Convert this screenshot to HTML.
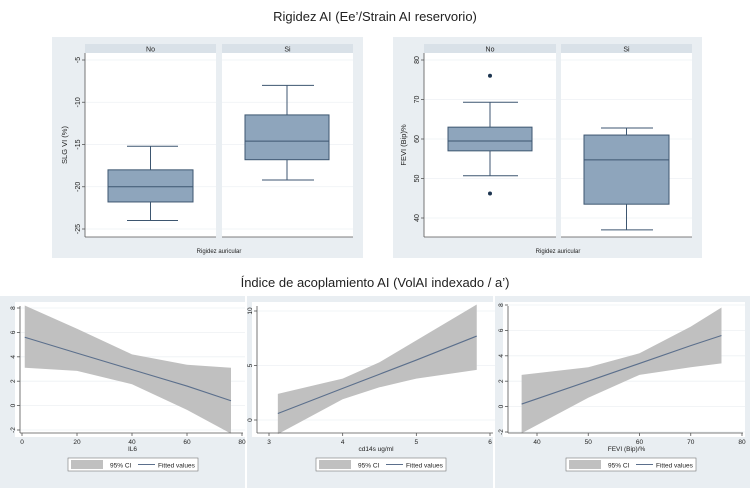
<!DOCTYPE html>
<html><head><meta charset="utf-8"><style>
body{margin:0;background:#fff;}
svg{display:block;font-family:"Liberation Sans",sans-serif;}
</style></head><body>
<svg id="c" width="750" height="488" viewBox="0 0 750 488">
<rect x="0" y="0" width="750" height="488" fill="#fff"/>
<text x="375" y="21" font-size="13" text-anchor="middle" fill="#222">Rigidez AI (Ee’/Strain AI reservorio)</text>
<text x="375" y="287" font-size="13" text-anchor="middle" fill="#222">Índice de acoplamiento AI (VolAI indexado / a’)</text>
<g id="g"></g>
</svg>
<script>
// Box plot data
const boxGroups = ["No","Si"];
const slgStats = [[-24,-21.8,-20,-18,-15.2],[-19.2,-16.8,-14.6,-11.5,-8]];
const slgOutliers = [[],[]];
const slgTicks = [-5,-10,-15,-20,-25];
const feviStats = [[50.7,57,59.5,63,69.3],[37,43.5,54.7,61,62.8]];
const feviOutliers = [[76,46.2],[]];
const feviTicks = [80,70,60,50,40];
// Fit plots data
const il6X = [1,20,40,60,76];
const il6Fit = [5.6,4.3,2.95,1.6,0.4];
const il6Lo = [3.1,2.85,1.75,-0.35,-2.3];
const il6Hi = [8.2,6.3,4.2,3.35,3.1];
const il6XTicks = [0,20,40,60,80];
const il6YTicks = [-2,0,2,4,6,8];
const cdX = [3.12,4,4.5,5,5.82];
const cdFit = [0.6,2.9,4.2,5.5,7.7];
const cdLo = [-1.3,1.9,3.0,3.8,4.6];
const cdHi = [2.4,3.8,5.3,7.3,10.6];
const cdXTicks = [3,4,5,6];
const cdYTicks = [0,5,10];
const fvX = [37,50,60,70,76];
const fvFit = [0.2,2.0,3.4,4.8,5.6];
const fvLo = [-2.1,0.7,2.5,3.1,3.4];
const fvHi = [2.5,3.1,4.2,6.3,7.8];
const fvXTicks = [40,50,60,70,80];
const fvYTicks = [-2,0,2,4,6,8];

const NS="http://www.w3.org/2000/svg";
const G=document.getElementById('g');
function mk(tag,attrs,parent){const e=document.createElementNS(NS,tag);for(const k in attrs)e.setAttribute(k,attrs[k]);(parent||G).appendChild(e);return e;}

function boxPanel(px,pw,ytitle,stats,outs,ticks,vTop,yTop,vBot,yBot,plotX,headers,boxX,capX,name){
  const g=mk('g',{});
  
  
  const y=v=>yTop+(v-vTop)*(yBot-yTop)/(vBot-vTop);
  mk('rect',{x:px,y:37,width:pw,height:221,fill:'#e9eef2'},g);
  headers.forEach((h,i)=>{
    const hr=mk('rect',{x:h[0],y:44,width:h[1]-h[0],height:9,fill:'#d9e1e8'},g);
    
    
    mk('rect',{x:h[0],y:53,width:h[1]-h[0],height:184,fill:'#fff'},g);
    const t=mk('text',{x:(h[0]+h[1])/2,y:51.5,'font-size':7,'text-anchor':'middle',fill:'#222'},g);t.textContent=boxGroups[i];
    ticks.forEach(v=>mk('line',{x1:h[0],x2:h[1],y1:y(v),y2:y(v),stroke:'#eef1f4','stroke-width':0.8},g));
    mk('line',{x1:h[0],x2:h[1],y1:237,y2:237,stroke:'#555','stroke-width':0.8},g);
  });
  mk('line',{x1:plotX,x2:plotX,y1:53,y2:237,stroke:'#555','stroke-width':0.8},g);
  ticks.forEach(v=>{
    mk('line',{x1:plotX-3,x2:plotX,y1:y(v),y2:y(v),stroke:'#555','stroke-width':0.8},g);
    const t=mk('text',{x:0,y:0,'font-size':7,'text-anchor':'middle',fill:'#222',transform:`translate(${plotX-5},${y(v)}) rotate(-90)`},g);t.textContent=v;
  });
  const yt=mk('text',{x:0,y:0,'font-size':7.5,'text-anchor':'middle',fill:'#222',transform:`translate(${plotX-18},145) rotate(-90)`},g);yt.textContent=ytitle;
  
  const xt=mk('text',{x:(headers[0][0]+headers[1][1])/2,y:253,'font-size':6,'text-anchor':'middle',fill:'#222'},g);xt.textContent='Rigidez auricular';
  stats.forEach((s,i)=>{
    const bx=boxX[i],cx=capX[i],mid=(bx[0]+bx[1])/2;
    const b=mk('g',{},g);
    
    
    const st={stroke:'#3d5670','stroke-width':1};
    mk('line',Object.assign({x1:mid,x2:mid,y1:y(s[0]),y2:y(s[1])},st),b);
    mk('line',Object.assign({x1:mid,x2:mid,y1:y(s[3]),y2:y(s[4])},st),b);
    mk('line',Object.assign({x1:cx[0],x2:cx[1],y1:y(s[0]),y2:y(s[0])},st),b);
    mk('line',Object.assign({x1:cx[0],x2:cx[1],y1:y(s[4]),y2:y(s[4])},st),b);
    mk('rect',Object.assign({x:bx[0],y:y(s[3]),width:bx[1]-bx[0],height:y(s[1])-y(s[3]),fill:'#8ea5bc'},st),b);
    mk('line',Object.assign({x1:bx[0],x2:bx[1],y1:y(s[2]),y2:y(s[2])},st),b);
    outs[i].forEach(o=>{const c=mk('circle',{cx:mid,cy:y(o),r:2,fill:'#1d3550'},b);
      });
  });
}
boxPanel(52,311,'SLG VI (%)',slgStats,slgOutliers,slgTicks,-5,60,-25,229,85,[[85,216],[222,353]],[[108,193],[245,329]],[[127,178],[262,314]],'slg-boxplot');
boxPanel(393,309,'FEVI (Bip)%',feviStats,feviOutliers,feviTicks,80,60,40,218,424,[[424,556],[561,692]],[[448,532],[584,669]],[[463,518],[601,653]],'fevi-boxplot');

function fitPanel(bx,bw,plot,xr,yr,X,F,Lo,Hi,xt,yt,xlabel,leg,name){
  const g=mk('g',{});
  
  
  const sx=v=>xr[1]+(v-xr[0])*(xr[3]-xr[1])/(xr[2]-xr[0]);
  const sy=v=>yr[1]+(v-yr[0])*(yr[3]-yr[1])/(yr[2]-yr[0]);
  mk('rect',{x:bx,y:296,width:bw,height:192,fill:'#e9eef2'},g);
  mk('rect',{x:plot[0],y:plot[1],width:plot[2]-plot[0],height:plot[3]-plot[1],fill:'#fff'},g);
  yt.forEach(v=>mk('line',{x1:plot[0],x2:plot[2],y1:sy(v),y2:sy(v),stroke:'#eef1f4','stroke-width':0.8},g));
  let d='M'+X.map((x,i)=>sx(x)+','+sy(Hi[i])).join(' L');
  for(let i=X.length-1;i>=0;i--)d+=' L'+sx(X[i])+','+sy(Lo[i]);
  const band=mk('path',{d:d+'Z',fill:'#c0c0c0'},g);
  
  const ln=mk('polyline',{points:X.map((x,i)=>sx(x)+','+sy(F[i])).join(' '),fill:'none',stroke:'#5b6f8c','stroke-width':1.1},g);
  
  const ax=plot[0]+5, ay=plot[3]-4;
  mk('line',{x1:ax,x2:ax,y1:plot[1]+4,y2:ay,stroke:'#555','stroke-width':0.8},g);
  mk('line',{x1:ax,x2:plot[2]-2,y1:ay,y2:ay,stroke:'#555','stroke-width':0.8},g);
  yt.forEach(v=>{mk('line',{x1:ax-3,x2:ax,y1:sy(v),y2:sy(v),stroke:'#555','stroke-width':0.8},g);
    const t=mk('text',{x:0,y:0,'font-size':6.5,'text-anchor':'middle',fill:'#222',transform:`translate(${ax-5},${sy(v)}) rotate(-90)`},g);t.textContent=v;});
  xt.forEach(v=>{mk('line',{x1:sx(v),x2:sx(v),y1:ay,y2:ay+3,stroke:'#555','stroke-width':0.8},g);
    const t=mk('text',{x:sx(v),y:ay+11,'font-size':6.5,'text-anchor':'middle',fill:'#222'},g);t.textContent=v;});
  const xl=mk('text',{x:(ax+plot[2])/2,y:ay+18,'font-size':6.5,'text-anchor':'middle',fill:'#222'},g);xl.textContent=xlabel;
  
  const lg=mk('g',{},g);
  
  mk('rect',{x:leg,y:458,width:130,height:13,fill:'#fff',stroke:'#777','stroke-width':0.6},lg);
  mk('rect',{x:leg+3,y:460,width:32,height:9,fill:'#c0c0c0'},lg);
  const t1=mk('text',{x:leg+42,y:467.5,'font-size':6.5,fill:'#222'},lg);t1.textContent='95% CI';
  mk('line',{x1:leg+70,x2:leg+87,y1:464.5,y2:464.5,stroke:'#5b6f8c','stroke-width':1},lg);
  const t2=mk('text',{x:leg+90,y:467.5,'font-size':6.5,fill:'#222'},lg);t2.textContent='Fitted values';
}
fitPanel(0,245,[15,302,245,437],[0,22,80,242],[8,308,-2,430],il6X,il6Fit,il6Lo,il6Hi,il6XTicks,il6YTicks,'IL6',68,'il6-fit-plot');
fitPanel(247,246,[252,302,495,437],[3,269,6,490],[10,311,0,420],cdX,cdFit,cdLo,cdHi,cdXTicks,cdYTicks,'cd14s ug/ml',316,'cd14s-fit-plot');
fitPanel(495,255,[503,302,745,437],[40,537,80,742],[8,305,-2,432],fvX,fvFit,fvLo,fvHi,fvXTicks,fvYTicks,'FEVI (Bip)/%',566,'fevi-fit-plot');
</script>
</body></html>
